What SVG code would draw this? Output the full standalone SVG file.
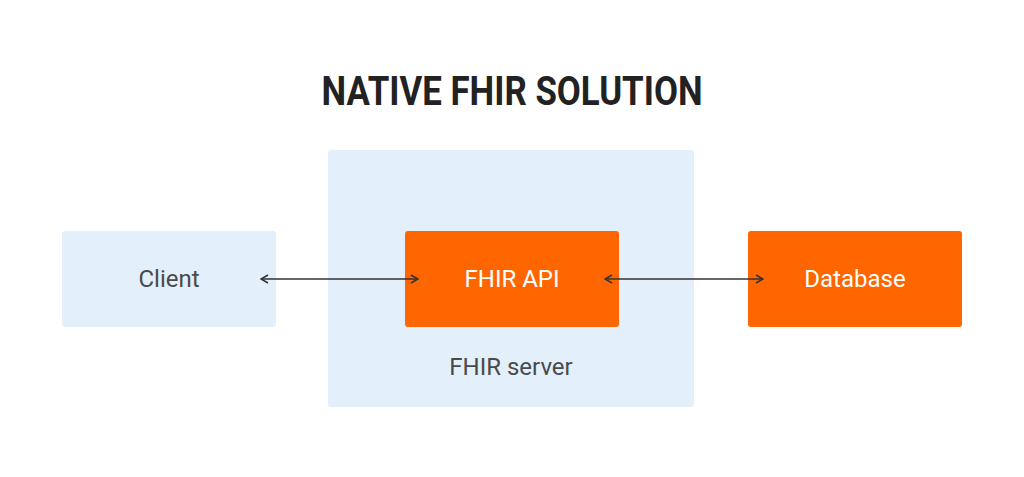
<svg xmlns="http://www.w3.org/2000/svg" width="1024" height="477" viewBox="0 0 1024 477">
<defs>
<style>
.bg{fill:#ffffff}
.light{fill:#E3F0FB}
.orange{fill:#FF6600}
.title{font-family:Roboto,"Liberation Sans",sans-serif;font-weight:bold;font-size:40px;fill:#222222}
.lbl{font-family:Roboto,"Liberation Sans",sans-serif;font-size:24px;fill:#4a4a4a;text-anchor:middle;dominant-baseline:central}
.wlbl{font-family:Roboto,"Liberation Sans",sans-serif;font-size:24px;fill:#ffffff;text-anchor:middle;dominant-baseline:central}
.conn{stroke:#333333;stroke-width:1.5;fill:none}
</style>
<marker id="arr" viewBox="0 0 10 10" refX="9" refY="5" markerWidth="10" markerHeight="10" markerUnits="userSpaceOnUse" orient="auto-start-reverse">
<path d="M2,1 L9,5 L2,9" fill="none" stroke="#333333" stroke-width="1.5"/>
</marker>
</defs>
<rect class="bg" x="0" y="0" width="1024" height="477"/>
<text class="title" x="512" y="105" text-anchor="middle" textLength="381" lengthAdjust="spacingAndGlyphs">NATIVE FHIR SOLUTION</text>
<g id="fhir-server">
<rect class="light" x="328" y="150" width="366" height="257" rx="3"/>
<text class="lbl" x="511" y="367">FHIR server</text>
</g>
<g id="client">
<rect class="light" x="62" y="231" width="214" height="96" rx="3"/>
<text class="lbl" x="169" y="279">Client</text>
</g>
<g id="fhir-api">
<rect class="orange" x="405" y="231" width="214" height="96" rx="3"/>
<text class="wlbl" x="512" y="279">FHIR API</text>
</g>
<g id="database">
<rect class="orange" x="748" y="231" width="214" height="96" rx="3"/>
<text class="wlbl" x="855" y="279">Database</text>
</g>
<g id="connectors">
<line class="conn" x1="261" y1="279" x2="418" y2="279" marker-start="url(#arr)" marker-end="url(#arr)"/>
<line class="conn" x1="605" y1="279" x2="763" y2="279" marker-start="url(#arr)" marker-end="url(#arr)"/>
</g>
</svg>
